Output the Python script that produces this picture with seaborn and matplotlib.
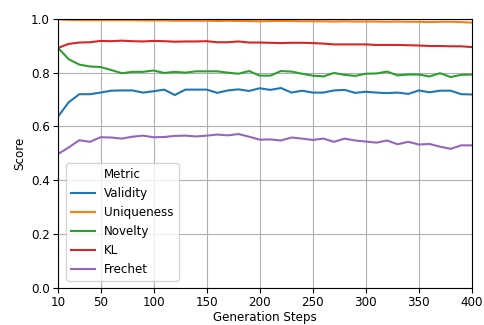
"""
Generation metrics over training steps, one line per metric.
Writes: out.png
"""
import matplotlib
matplotlib.use("Agg")
import matplotlib.pyplot as plt
import pandas as pd
import seaborn as sns

STEPS = list(range(10, 401, 10))

METRICS = ["Validity", "Uniqueness", "Novelty", "KL", "Frechet"]

VALIDITY = [0.637, 0.690, 0.720, 0.720, 0.726, 0.733, 0.734, 0.734, 0.726, 0.731,
            0.737, 0.717, 0.737, 0.737, 0.737, 0.725, 0.734, 0.738, 0.732, 0.742,
            0.736, 0.743, 0.726, 0.733, 0.726, 0.726, 0.734, 0.736, 0.725, 0.729,
            0.726, 0.724, 0.726, 0.721, 0.734, 0.727, 0.733, 0.733, 0.720, 0.719]
UNIQUENESS = [0.998, 0.996, 0.995, 0.995, 0.995, 0.995, 0.995, 0.995, 0.994, 0.994,
              0.994, 0.993, 0.993, 0.993, 0.993, 0.992, 0.993, 0.992, 0.992, 0.991,
              0.992, 0.992, 0.992, 0.991, 0.991, 0.991, 0.990, 0.991, 0.990, 0.990,
              0.990, 0.989, 0.990, 0.989, 0.989, 0.988, 0.989, 0.989, 0.988, 0.986]
NOVELTY = [0.892, 0.850, 0.830, 0.823, 0.821, 0.810, 0.798, 0.803, 0.803, 0.808,
           0.799, 0.803, 0.800, 0.805, 0.805, 0.805, 0.800, 0.796, 0.806, 0.789,
           0.789, 0.806, 0.804, 0.796, 0.789, 0.786, 0.799, 0.792, 0.788, 0.796,
           0.797, 0.804, 0.790, 0.793, 0.793, 0.786, 0.798, 0.784, 0.792, 0.793]
KL = [0.892, 0.907, 0.912, 0.913, 0.918, 0.917, 0.919, 0.917, 0.916, 0.918,
      0.917, 0.915, 0.916, 0.916, 0.917, 0.913, 0.913, 0.916, 0.912, 0.912,
      0.911, 0.910, 0.911, 0.911, 0.910, 0.908, 0.905, 0.905, 0.905, 0.905,
      0.903, 0.903, 0.903, 0.902, 0.901, 0.899, 0.899, 0.898, 0.898, 0.895]
FRECHET = [0.498, 0.522, 0.549, 0.543, 0.560, 0.559, 0.555, 0.562, 0.566, 0.560,
           0.561, 0.565, 0.566, 0.563, 0.566, 0.570, 0.567, 0.572, 0.562, 0.551,
           0.552, 0.548, 0.559, 0.555, 0.550, 0.555, 0.543, 0.555, 0.548, 0.544,
           0.540, 0.548, 0.534, 0.543, 0.533, 0.535, 0.525, 0.517, 0.530, 0.530]

X_TICKS = [10, 50, 100, 150, 200, 250, 300, 350, 400]
Y_TICKS = [0.0, 0.2, 0.4, 0.6, 0.8, 1.0]


def build_frame():
    series = [VALIDITY, UNIQUENESS, NOVELTY, KL, FRECHET]
    parts = []
    for name, vals in zip(METRICS, series):
        parts.append(pd.DataFrame({"Generation Steps": STEPS,
                                   "Score": vals, "Metric": name}))
    return pd.concat(parts, ignore_index=True)


def main():
    plt.rcParams["font.family"] = ["DejaVu Sans"]
    plt.rcParams["font.size"] = 8.6

    df = build_frame()

    fig = plt.figure(figsize=(4.84, 3.25), dpi=100)
    ax = fig.add_axes([0.12, 0.114, 0.855, 0.828])

    sns.lineplot(data=df, x="Generation Steps", y="Score", hue="Metric",
                 hue_order=METRICS, ax=ax, linewidth=1.5)

    ax.set_xlim(10, 400)
    ax.set_ylim(0, 1.0)
    ax.set_xticks(X_TICKS)
    ax.set_yticks(Y_TICKS)
    ax.tick_params(pad=2.5)
    ax.set_xlabel("Generation Steps", labelpad=1.5)
    ax.set_ylabel("Score", labelpad=3)
    ax.grid(True, color="#b0b0b0", linewidth=0.8)
    ax.set_axisbelow(True)

    ax.legend(title="Metric", loc="lower left", bbox_to_anchor=(0.005, 0.005))

    fig.savefig("out.png", dpi=100)
    plt.close(fig)


if __name__ == "__main__":
    main()
